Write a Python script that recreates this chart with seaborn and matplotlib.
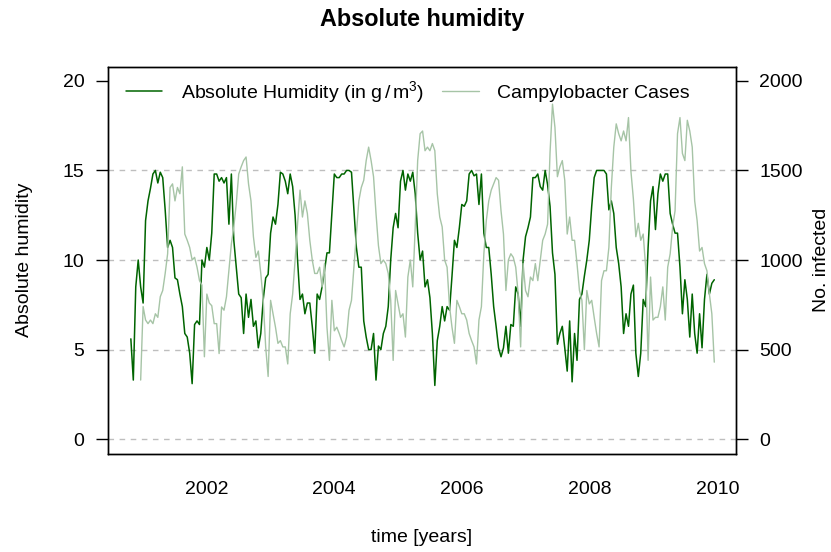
import numpy as np
import pandas as pd
import matplotlib
matplotlib.use("Agg")
import matplotlib.pyplot as plt
from matplotlib.lines import Line2D
import seaborn as sns

# ---- data (bi-weekly readings) ----
t_start = 2000.82
t_end = 2009.95

humidity = [
    5.6, 3.3, 8.5, 10.0, 8.5, 7.6, 12.2, 13.3, 14.0, 14.8, 15.0, 14.3, 14.9, 14.6, 12.8, 10.7, 11.1,
    10.7, 9.0, 8.9, 8.1, 7.4, 5.9, 5.7, 4.8, 3.1, 6.4, 6.6, 6.4, 10.0, 9.6, 10.7, 10.0, 11.5,
    14.8, 14.8, 14.4, 14.6, 14.3, 14.6, 12.0, 14.8, 11.1, 9.6, 8.1, 7.9, 5.9, 8.1, 6.8, 7.8, 6.3,
    6.6, 5.1, 5.9, 7.8, 9.0, 9.2, 11.5, 12.4, 12.0, 13.1, 14.9, 14.8, 14.4, 13.7, 14.8, 14.1, 12.5, 10.0,
    7.8, 8.1, 7.0, 7.6, 7.6, 6.3, 4.8, 8.1, 7.8, 8.5, 9.4, 10.4, 10.4, 12.6, 14.8, 14.6, 14.6,
    14.8, 14.8, 15.0, 15.0, 14.9, 12.8, 10.7, 9.6, 9.6, 6.6, 5.7, 5.0, 5.0, 5.9, 3.3,
    5.2, 5.0, 5.9, 6.3, 7.4, 10.0, 11.8, 12.6, 11.8, 14.4, 15.0, 13.9, 14.8, 14.4, 14.9, 13.7, 11.5,
    10.0, 10.5, 8.5, 8.9, 7.9, 5.9, 3.0, 5.5, 6.3, 7.4, 6.6, 7.4, 7.2, 9.1, 11.1, 10.7, 11.8, 13.1,
    13.0, 13.3, 14.8, 15.0, 14.7, 14.8, 13.1, 14.8, 11.5, 10.7, 10.7, 9.2, 7.4, 6.3, 5.1, 4.6, 5.1,
    6.3, 4.8, 6.4, 6.3, 8.5, 8.1, 6.3, 10.0, 11.3, 11.8, 12.4, 14.6, 14.6, 14.8, 14.1, 13.9, 15.0,
    14.2, 13.0, 10.4, 9.2, 5.3, 5.9, 6.3, 5.1, 3.8, 6.6, 3.2, 5.9, 4.4, 7.8, 8.1, 9.1, 10.0, 11.1,
    13.0, 14.6, 15.0, 15.0, 15.0, 15.0, 14.8, 12.8, 13.3, 12.6, 10.7, 9.8, 8.5, 5.9, 7.0, 6.3, 8.1,
    8.6, 4.8, 3.5, 4.8, 7.8, 7.4, 10.7, 13.3, 14.1, 11.7, 13.7, 14.8, 14.4, 14.8, 14.8, 12.6, 12.0,
    11.5, 11.5, 9.6, 7.0, 8.9, 7.8, 5.7, 8.1, 5.9, 4.8, 7.0, 5.1, 7.8, 9.2, 8.1, 8.7, 8.9,
]

cases = [
    np.nan, np.nan, np.nan, np.nan,
    330, 740, 665, 645, 665, 645, 700, 680, 795, 830, 925, 1035, 1405, 1425, 1330, 1405, 1370,
    1520, 1145, 1110, 1070, 1000, 1015, 960, 885, 860, 460, 810, 760, 745,
    645, 645, 478, 738, 720, 795, 940, 1090, 1185, 1315, 1480, 1520, 1555, 1575, 1425, 1330, 1130,
    1015, 1050, 925, 775, 515, 350, 775, 700, 625, 535, 550, 515, 515, 420, 700, 810, 1000, 1200,
    1390, 1240, 1330, 1260, 1110, 1000, 925, 925, 960, 850, 980, 625, 440, 775, 605, 625, 590,
    550, 515, 570, 720, 775, 960, 1145, 1330, 1405, 1445, 1555, 1630, 1555, 1465, 1260,
    1080, 980, 1000, 980, 925, 775, 440, 830, 755, 680, 700, 570, 905, 1000, 850, 1185, 1555,
    1705, 1720, 1610, 1630, 1610, 1650, 1610, 1370, 1240, 1185, 1000, 960, 740, 625, 535, 775, 740, 700,
    700, 665, 590, 550, 515, 420, 665, 740, 1035, 1220, 1330, 1390, 1425, 1460, 1445, 1275, 1145,
    830, 1000, 1035, 1015, 960, 810, 515, 980, 830, 795, 905, 885, 980, 885, 1000, 1110, 1145,
    1200, 1600, 1870, 1740, 1465, 1520, 1555, 1445, 1145, 1240, 1110, 1110, 980, 830, 775, 500, 830,
    755, 775, 680, 590, 515, 885, 940, 940, 1070, 1405, 1630, 1760, 1705, 1665, 1720, 1665, 1795, 1495,
    1340, 1130, 1205, 1110, 1145, 960, 440, 905, 665, 680, 680, 740, 850, 665, 960, 1035, 1185,
    1275, 1705, 1795, 1595, 1555, 1780, 1720, 1630, 1330, 1220, 1050, 1070, 980, 940, 810, 700, 430,
]

x_ticks = [2002, 2004, 2006, 2008, 2010]
left_ticks = [0, 5, 10, 15, 20]
right_ticks = [0, 500, 1000, 1500, 2000]
grid_levels = [0, 5, 10, 15]

years = np.linspace(t_start, t_end, len(humidity))
df = pd.DataFrame({"year": years, "humidity": humidity, "cases": cases})

# ---- style ----
sns.set_style("white")
plt.rcParams["font.family"] = ["Liberation Sans", "DejaVu Sans"]
plt.rcParams["mathtext.fontset"] = "custom"
plt.rcParams["mathtext.rm"] = "Liberation Sans"
plt.rcParams["mathtext.it"] = "Liberation Sans:italic"
for k in ("text.color", "axes.labelcolor", "xtick.color", "ytick.color", "axes.edgecolor"):
    plt.rcParams[k] = "black"

dark = "#006400"
light = "#a6c4a6"
FS = 14

fig = plt.figure(figsize=(8.31, 5.52), dpi=100)
ax = fig.add_axes([0.1294, 0.1784, 0.7563, 0.7011])

for g in grid_levels:
    ax.axhline(g, color="#BEBEBE", lw=1.0, ls=(0, (4, 4)), zorder=0)

sns.lineplot(data=df, x="year", y="humidity", ax=ax, color=dark, lw=1.1, zorder=2)
ax2 = ax.twinx()
sns.lineplot(data=df, x="year", y="cases", ax=ax2, color=light, lw=1.0, zorder=2)

ax.set_xlim(2000.455, 2010.29)
ax.set_ylim(-0.8, 20.8)
ax2.set_ylim(-80, 2080)
ax.set_xticks(x_ticks)
ax.set_yticks(left_ticks)
ax2.set_yticks(right_ticks)
ax.set_xlabel("")
ax.set_ylabel("")
ax2.set_ylabel("")

for a in (ax, ax2):
    a.tick_params(direction="out", length=8.6, width=1.0, color="black",
                  labelsize=FS, pad=8.0, labelcolor="black")
    for s in a.spines.values():
        s.set_color("black")
        s.set_linewidth(1.0)
ax.tick_params(axis="x", pad=11)
ax.tick_params(axis="y", left=True)
ax2.tick_params(axis="y", right=True)

handles = [Line2D([], [], color=dark, lw=1.1), Line2D([], [], color=light, lw=1.0)]
labels = [r"Absolute Humidity (in $\mathregular{g\,/\,m^3}$)", "Campylobacter Cases"]
leg = ax2.legend(handles, labels, loc="center left", bbox_to_anchor=(0.0294, 0.935),
                 ncol=2, frameon=False, fontsize=FS, handlelength=1.87, handletextpad=0.94,
                 columnspacing=0.95, borderpad=0, borderaxespad=0)
for txt in leg.get_texts():
    txt.set_color("black")

fig.text(0.5075, 0.9638, "Absolute humidity", ha="center", va="center",
         fontsize=16.8, fontweight="bold", color="black")
fig.text(0.5075, 0.0254, "time [years]", ha="center", va="center", fontsize=FS, color="black")
fig.text(0.030, 0.529, "Absolute humidity", ha="center", va="center", rotation=90,
         fontsize=FS, color="black")
fig.text(0.989, 0.529, "No. infected", ha="center", va="center", rotation=90,
         fontsize=FS, color="black")

fig.savefig("out.png", dpi=100)
